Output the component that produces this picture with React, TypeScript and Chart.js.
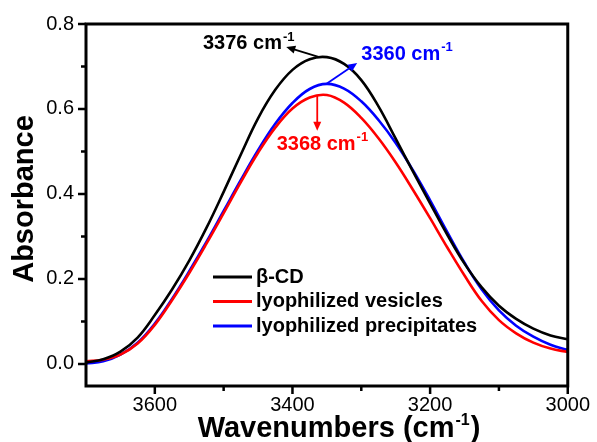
import { useEffect, useRef } from 'react';
import { Chart, registerables } from 'chart.js';

Chart.register(...registerables);

const wavenumbers = [
  3700, 3675, 3650, 3625, 3600, 3575, 3550, 3525, 3500, 3475, 3450, 3425, 3400, 3375, 3350,
  3325, 3300, 3275, 3250, 3225, 3200, 3175, 3150, 3125, 3100, 3075, 3050, 3025, 3000,
];

const betaCD = [
  0.003, 0.011, 0.029, 0.062, 0.115, 0.175, 0.243, 0.320, 0.405, 0.493, 0.578, 0.645, 0.692, 0.717, 0.722,
  0.706, 0.668, 0.606, 0.530, 0.453, 0.378, 0.304, 0.236, 0.180, 0.137, 0.106, 0.083, 0.067, 0.058,
];

const vesicles = [
  0.006, 0.010, 0.022, 0.048, 0.092, 0.150, 0.214, 0.283, 0.355, 0.428, 0.497, 0.556, 0.601, 0.627, 0.633,
  0.615, 0.579, 0.531, 0.474, 0.410, 0.343, 0.274, 0.208, 0.148, 0.103, 0.072, 0.050, 0.036, 0.028,
];

const precipitates = [
  0.001, 0.006, 0.022, 0.050, 0.095, 0.153, 0.218, 0.287, 0.360, 0.433, 0.503, 0.565, 0.614, 0.647, 0.659,
  0.648, 0.618, 0.574, 0.520, 0.456, 0.385, 0.310, 0.238, 0.175, 0.126, 0.090, 0.064, 0.045, 0.033,
];

const seriesLabels = ['β-CD', 'lyophilized vesicles', 'lyophilized precipitates'];
const seriesColors = ['#000000', '#ff0000', '#0000ff'];
const xTickLabels = [3600, 3400, 3200, 3000];
const peakLabels = ['3376', '3368', '3360'];

const FONT = '"Liberation Sans", Arial, Helvetica, sans-serif';

const toPoints = (vals: number[]) => wavenumbers.map((w, i) => ({ x: w, y: vals[i] }));

function drawArrow(ctx: CanvasRenderingContext2D, x1: number, y1: number, x2: number, y2: number, color: string) {
  const ang = Math.atan2(y2 - y1, x2 - x1);
  const len = 9;
  const half = 4;
  ctx.save();
  ctx.strokeStyle = color;
  ctx.fillStyle = color;
  ctx.lineWidth = 1.8;
  ctx.beginPath();
  ctx.moveTo(x1, y1);
  ctx.lineTo(x2 - Math.cos(ang) * len * 0.8, y2 - Math.sin(ang) * len * 0.8);
  ctx.stroke();
  ctx.beginPath();
  ctx.moveTo(x2, y2);
  ctx.lineTo(x2 - Math.cos(ang) * len - Math.sin(ang) * half, y2 - Math.sin(ang) * len + Math.cos(ang) * half);
  ctx.lineTo(x2 - Math.cos(ang) * len + Math.sin(ang) * half, y2 - Math.sin(ang) * len - Math.cos(ang) * half);
  ctx.closePath();
  ctx.fill();
  ctx.restore();
}

function drawSupText(
  ctx: CanvasRenderingContext2D,
  main: string,
  sup: string,
  tail: string,
  x: number,
  y: number,
  size: number,
  supSize: number,
  supRise: number,
  align: 'left' | 'center',
) {
  ctx.font = `bold ${size}px ${FONT}`;
  const wMain = ctx.measureText(main).width;
  const wTail = tail ? ctx.measureText(tail).width : 0;
  ctx.font = `bold ${supSize}px ${FONT}`;
  const wSup = ctx.measureText(sup).width;
  const total = wMain + 1 + wSup + (tail ? 1 + wTail : 0);
  let sx = align === 'center' ? x - total / 2 : x;
  ctx.textAlign = 'left';
  ctx.font = `bold ${size}px ${FONT}`;
  ctx.fillText(main, sx, y);
  sx += wMain + 1;
  ctx.font = `bold ${supSize}px ${FONT}`;
  ctx.fillText(sup, sx, y - supRise);
  sx += wSup + 1;
  if (tail) {
    ctx.font = `bold ${size}px ${FONT}`;
    ctx.fillText(tail, sx, y);
  }
}

const decorPlugin = {
  id: 'decor',
  afterDraw(chart: any) {
    const { ctx, chartArea, scales } = chart;
    const xs = scales.x;
    const ys = scales.y;
    ctx.save();

    // frame
    ctx.strokeStyle = '#000';
    ctx.lineWidth = 3;
    ctx.strokeRect(chartArea.left, chartArea.top, chartArea.right - chartArea.left, chartArea.bottom - chartArea.top);

    // ticks
    ctx.lineWidth = 2.5;
    ctx.beginPath();
    for (const t of xs.ticks) {
      if (t.value >= 3700) continue;
      const px = xs.getPixelForValue(t.value);
      const major = xTickLabels.includes(t.value);
      ctx.moveTo(px, chartArea.bottom);
      ctx.lineTo(px, chartArea.bottom + (major ? 8 : 5));
    }
    for (const t of ys.ticks) {
      const py = ys.getPixelForValue(t.value);
      const major = Math.round(t.value * 10) % 2 === 0;
      ctx.moveTo(chartArea.left, py);
      ctx.lineTo(chartArea.left - (major ? 8 : 5), py);
    }
    ctx.stroke();

    // axis titles
    ctx.fillStyle = '#000';
    ctx.textBaseline = 'alphabetic';
    ctx.save();
    ctx.translate(33, (chartArea.top + chartArea.bottom) / 2 - 6);
    ctx.rotate(-Math.PI / 2);
    ctx.font = `bold 29px ${FONT}`;
    ctx.textAlign = 'center';
    ctx.fillText('Absorbance', 0, 0);
    ctx.restore();
    drawSupText(ctx, 'Wavenumbers (cm', '-1', ')', 339, 437, 29, 16, 12, 'center');

    // legend
    ctx.textBaseline = 'middle';
    chart.data.datasets.forEach((ds: any, i: number) => {
      const y = 277 + i * 24.5;
      ctx.strokeStyle = ds.borderColor;
      ctx.lineWidth = 3;
      ctx.beginPath();
      ctx.moveTo(213, y);
      ctx.lineTo(252, y);
      ctx.stroke();
      ctx.fillStyle = '#000';
      ctx.font = `bold 20px ${FONT}`;
      ctx.textAlign = 'left';
      ctx.fillText(ds.label, 256, y);
    });

    // peak annotations
    const notes = [
      { label: peakLabels[0], color: seriesColors[0], tail: [3361, 0.722], head: [3409, 0.746], text: [3530, 0.753] },
      { label: peakLabels[1], color: seriesColors[1], tail: [3364, 0.633], head: [3364, 0.549], text: [3423, 0.516] },
      { label: peakLabels[2], color: seriesColors[2], tail: [3351, 0.659], head: [3306, 0.708], text: [3300, 0.729] },
    ];
    for (const n of notes) {
      drawArrow(
        ctx,
        xs.getPixelForValue(n.tail[0]),
        ys.getPixelForValue(n.tail[1]),
        xs.getPixelForValue(n.head[0]),
        ys.getPixelForValue(n.head[1]),
        n.color,
      );
      ctx.fillStyle = n.color;
      ctx.textBaseline = 'middle';
      drawSupText(ctx, `${n.label} cm`, '-1', '', xs.getPixelForValue(n.text[0]), ys.getPixelForValue(n.text[1]), 20, 13, 7, 'left');
    }
    ctx.restore();
  },
};

export default function App() {
  const ref = useRef<HTMLCanvasElement>(null);
  useEffect(() => {
    document.body.style.margin = '0';
    const canvas = ref.current;
    if (!canvas) return;
    const chart = new Chart(canvas, {
      type: 'line',
      data: {
        datasets: [betaCD, vesicles, precipitates].map((vals, i) => ({
          label: seriesLabels[i],
          data: toPoints(vals),
          borderColor: seriesColors[i],
          backgroundColor: seriesColors[i],
          borderWidth: 2.6,
          pointRadius: 0,
          tension: 0.4,
          fill: false,
        })),
      },
      options: {
        animation: false,
        responsive: false,
        maintainAspectRatio: false,
        layout: { padding: { top: 23, right: 27, left: 0, bottom: 0 } },
        plugins: { legend: { display: false }, tooltip: { enabled: false } },
        scales: {
          x: {
            type: 'linear',
            reverse: true,
            min: 3000,
            max: 3700,
            afterFit: (s: any) => {
              s.height = 56;
            },
            grid: { display: false, drawTicks: false },
            border: { display: false },
            ticks: {
              stepSize: 100,
              padding: 7,
              autoSkip: false,
              maxRotation: 0,
              color: '#000',
              font: { family: FONT, size: 20 },
              callback: (v: any) => (xTickLabels.includes(Number(v)) ? String(v) : ''),
            },
          },
          y: {
            min: -0.052,
            max: 0.8,
            afterFit: (s: any) => {
              s.width = 86;
            },
            grid: { display: false, drawTicks: false },
            border: { display: false },
            ticks: {
              stepSize: 0.1,
              includeBounds: false,
              padding: 12,
              autoSkip: false,
              color: '#000',
              font: { family: FONT, size: 20 },
              callback: (v: any) => (Math.round(Number(v) * 10) % 2 === 0 ? Number(v).toFixed(1) : ''),
            },
          },
        },
      },
      plugins: [decorPlugin],
    });
    return () => chart.destroy();
  }, []);
  return (
    <div style={{ width: 597, height: 442 }}>
      <canvas ref={ref} width={597} height={442} style={{ display: 'block' }} />
    </div>
  );
}
